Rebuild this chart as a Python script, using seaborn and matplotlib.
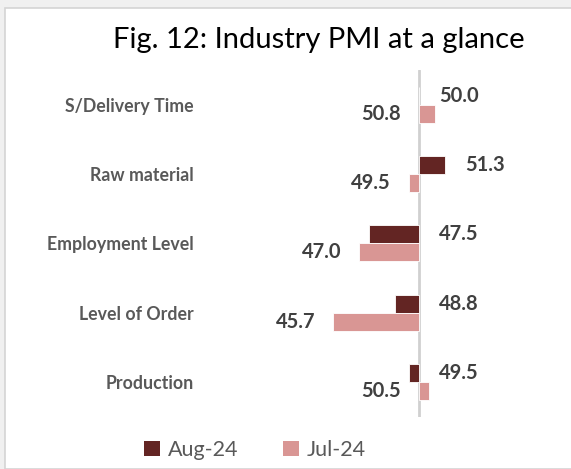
import numpy as np
import pandas as pd
import matplotlib.pyplot as plt
import seaborn as sns
from matplotlib.patches import Rectangle, Patch

# PMI sub-indices (50 = no change), top to bottom as in the figure
categories = ['S/Delivery Time', 'Raw material', 'Employment Level', 'Level of Order', 'Production']
aug_24 = [50.0, 51.3, 47.5, 48.8, 49.5]
jul_24 = [50.8, 49.5, 47.0, 45.7, 50.5]
series = ['Aug-24', 'Jul-24']
colors = ['#632523', '#d99694']
baseline = 50

df = pd.DataFrame({
    'Category': categories * 2,
    'Series': [series[0]] * len(categories) + [series[1]] * len(categories),
    'Value': aug_24 + jul_24,
})
df['Diff'] = df['Value'] - baseline

sns.set_theme(style='white')
plt.rcParams['font.family'] = ['Lato', 'DejaVu Sans']

W, H = 571, 469
fig = plt.figure(figsize=(W / 100, H / 100), dpi=100)
fig.patch.set_facecolor('#f0f0f0')
# white card with light border
fig.patches.append(Rectangle((4.5 / W, 0), 1.2, (H - 8.5) / H, transform=fig.transFigure,
                             facecolor='white', edgecolor='#d4d4d4', lw=1.2, zorder=-5))

# axis zero line sits at x=419px, about 20px per index point
x_lo, x_hi = -11.0, 5.5
px_per_unit = 20.0
left_px = 419 - (-x_lo) * px_per_unit
width_px = (x_hi - x_lo) * px_per_unit
top_px, bot_px = 70, 416.5
ax = fig.add_axes([left_px / W, (H - bot_px) / H, width_px / W, (bot_px - top_px) / H])
ax.set_facecolor('none')
ax.set_zorder(2)

sns.barplot(data=df, y='Category', x='Diff', hue='Series', order=categories,
            hue_order=series, palette=colors, saturation=1, width=0.52, orient='h',
            edgecolor='white', linewidth=0.6, ax=ax, legend=False)

ax.set_xlim(x_lo, x_hi)
ax.set_ylim(len(categories) - 0.5, -0.5)
ax.axvline(0, color='#d0d0d0', lw=2, zorder=0)
for s in ax.spines.values():
    s.set_visible(False)
ax.set_xticks([])
ax.set_xlabel('')
ax.set_ylabel('')
ax.tick_params(axis='y', length=0, pad=4)
for lab in ax.get_yticklabels():
    lab.set_fontweight('bold')
    lab.set_fontsize(12.8)
    lab.set_color('#595959')

# data labels: Aug to the right of the line, Jul to the left
off = 0.13
for i, (a, j) in enumerate(zip(aug_24, jul_24)):
    ax.text(max(a - baseline, 0) + 1.0, i - off, f'{a:.1f}', ha='left', va='center',
            fontsize=14.5, fontweight='bold', color='#404040')
    ax.text(min(j - baseline, 0) - 0.9, i + off, f'{j:.1f}', ha='right', va='center',
            fontsize=14.5, fontweight='bold', color='#404040')

fig.text(319 / W, 1 - 40 / H, 'Fig. 12: Industry PMI at a glance', ha='center', va='center',
         fontsize=21, color='black')

handles = [Patch(facecolor=c, edgecolor='none') for c in colors]
fig.legend(handles, series, loc='center', bbox_to_anchor=(255 / W, 1 - 450 / H), ncol=2,
           frameon=False, fontsize=15.5, labelcolor='#595959', handlelength=0.75, handleheight=0.75,
           handletextpad=0.35, columnspacing=2.1)

fig.savefig('out.png', dpi=100)
